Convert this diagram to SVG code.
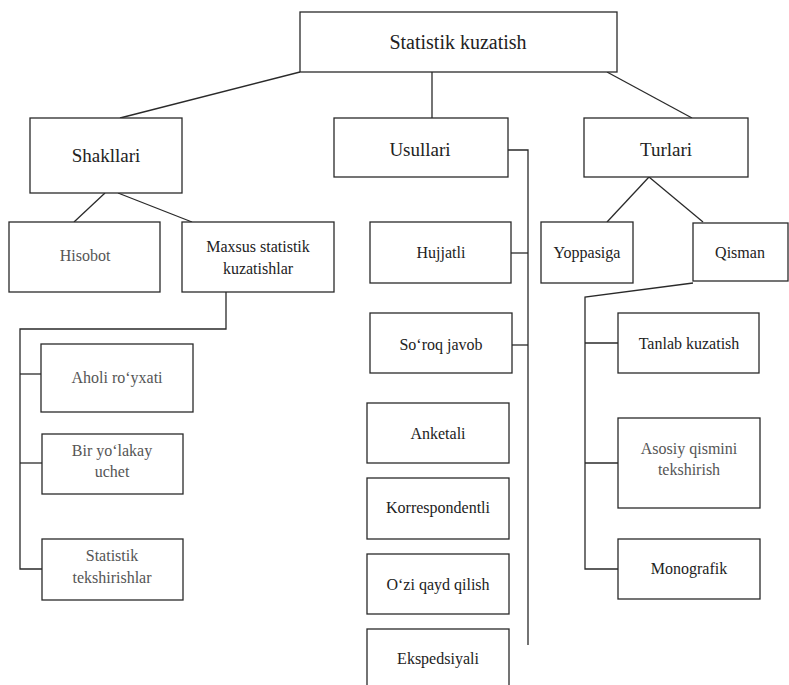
<svg xmlns="http://www.w3.org/2000/svg" width="789" height="685" viewBox="0 0 789 685">
<style>
.b{fill:#fff;stroke:#2a2a2a;stroke-width:1.3}
text{font-family:'Liberation Serif','DejaVu Serif',serif;fill:#222;text-anchor:middle;font-size:16px}
.h{font-size:19px}
.tt{font-size:20px}
.l{fill:#555}
.c{fill:none;stroke:#2a2a2a;stroke-width:1.3}
</style>
<rect width="789" height="685" fill="#fff"/>
<g id="connectors" class="c">
<line x1="300" y1="72" x2="120" y2="118"/>
<line x1="432" y1="72" x2="432" y2="118"/>
<line x1="607" y1="72" x2="692" y2="118"/>
<line x1="105" y1="193" x2="74" y2="222"/>
<line x1="118" y1="193" x2="192" y2="222"/>
<polyline points="226,292 226,329 20,329 20,569 42,569"/>
<line x1="20" y1="374" x2="41" y2="374"/>
<line x1="20" y1="463" x2="42" y2="463"/>
<polyline points="508,150 528,150 528,645"/>
<line x1="511" y1="253" x2="528" y2="253"/>
<line x1="512" y1="345" x2="528" y2="345"/>
<line x1="649" y1="177" x2="607" y2="222"/>
<line x1="649" y1="177" x2="703" y2="222"/>
<polyline points="693,283 585,297 585,569 618,569"/>
<line x1="585" y1="343" x2="618" y2="343"/>
<line x1="585" y1="463" x2="618" y2="463"/>
</g>
<g id="root"><rect class="b" x="300" y="12" width="317" height="60"/><text class="tt" x="458" y="49">Statistik  kuzatish</text></g>
<g id="shakllari"><rect class="b" x="30" y="118" width="152" height="75"/><text class="h" x="106" y="162">Shakllari</text></g>
<g id="usullari"><rect class="b" x="334" y="118" width="174" height="59"/><text class="h" x="420" y="156">Usullari</text></g>
<g id="turlari"><rect class="b" x="584" y="118" width="164" height="59"/><text class="h" x="666" y="156">Turlari</text></g>
<g id="hisobot"><rect class="b" x="9" y="222" width="151" height="70"/><text class="l" x="85" y="261">Hisobot</text></g>
<g id="maxsus"><rect class="b" x="182" y="222" width="152" height="70"/><text x="258" y="252">Maxsus statistik</text><text x="258" y="274">kuzatishlar</text></g>
<g id="aholi"><rect class="b" x="41" y="344" width="152" height="68"/><text class="l" x="117" y="383">Aholi ro‘yxati</text></g>
<g id="bir"><rect class="b" x="42" y="434" width="141" height="60"/><text class="l" x="112" y="456">Bir yo‘lakay</text><text class="l" x="112" y="477">uchet</text></g>
<g id="tekshirishlar"><rect class="b" x="42" y="539" width="141" height="61"/><text class="l" x="112" y="561">Statistik</text><text class="l" x="112" y="583">tekshirishlar</text></g>
<g id="hujjatli"><rect class="b" x="370" y="222" width="141" height="61"/><text x="441" y="258">Hujjatli</text></g>
<g id="soroq"><rect class="b" x="370" y="313" width="142" height="60"/><text x="441" y="350">So‘roq javob</text></g>
<g id="anketali"><rect class="b" x="367" y="403" width="142" height="60"/><text x="438" y="439">Anketali</text></g>
<g id="korrespondentli"><rect class="b" x="367" y="478" width="142" height="61"/><text x="438" y="513">Korrespondentli</text></g>
<g id="ozi"><rect class="b" x="367" y="554" width="142" height="60"/><text x="438" y="590">O‘zi qayd qilish</text></g>
<g id="ekspedsiyali"><rect class="b" x="367" y="629" width="142" height="70"/><text x="438" y="664">Ekspedsiyali</text></g>
<g id="yoppasiga"><rect class="b" x="541" y="222" width="92" height="61"/><text x="587" y="258">Yoppasiga</text></g>
<g id="qisman"><rect class="b" x="693" y="223" width="95" height="58"/><text x="740" y="258">Qisman</text></g>
<g id="tanlab"><rect class="b" x="618" y="313" width="141" height="60"/><text x="689" y="349">Tanlab kuzatish</text></g>
<g id="asosiy"><rect class="b" x="618" y="418" width="142" height="90"/><text class="l" x="689" y="454">Asosiy  qismini</text><text class="l" x="689" y="475">tekshirish</text></g>
<g id="monografik"><rect class="b" x="618" y="539" width="142" height="60"/><text x="689" y="574">Monografik</text></g>
</svg>
